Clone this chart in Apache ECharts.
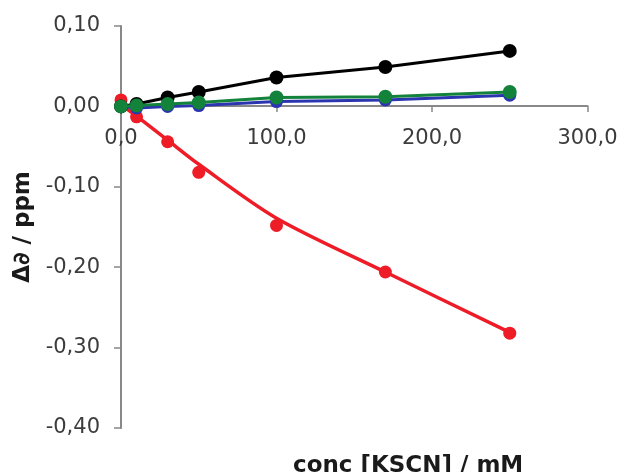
<!DOCTYPE html>
<html>
<head>
<meta charset="utf-8">
<script src="https://cdn.jsdelivr.net/npm/echarts@6/dist/echarts.min.js"></script>
<style>
html,body{margin:0;padding:0;background:#fff;}
#chart{width:621px;height:472px;}
</style>
</head>
<body>
<div id="chart"></div>
<script>
// concentrations (mM)
var conc = [0, 10, 30, 50, 100, 170, 250];
// chemical shift changes (ppm)
var blackVals = [0.000, 0.003, 0.011, 0.018, 0.036, 0.049, 0.069];
var greenVals = [0.000, 0.001, 0.003, 0.005, 0.011, 0.012, 0.018];
var blueVals  = [0.000, -0.002, 0.000, 0.001, 0.006, 0.008, 0.014];
var redVals   = [0.008, -0.013, -0.044, -0.082, -0.148, -0.206, -0.282];
// red trend curve
var redFit    = [0.002, -0.012, -0.042, -0.072, -0.139, -0.206, -0.281];

var xTicks = [0, 100, 200, 300];
var yTicks = [-0.4, -0.3, -0.2, -0.1, 0.0, 0.1];

function pairs(vals){ return conc.map(function(c,i){ return [c, vals[i]]; }); }

var FONT = 'DejaVu Sans';
var chart = echarts.init(document.getElementById('chart'), null, {renderer:'canvas'});
chart.setOption({
  backgroundColor:'#ffffff',
  animation:false,
  title:{
    text:'conc [KSCN] / mM',
    left:288, top:450,
    textStyle:{fontFamily:FONT, fontSize:23, fontWeight:'bold', color:'#1a1a1a'}
  },
  grid:{left:121, right:33.5, top:26, bottom:44},
  xAxis:{
    type:'value', min:xTicks[0], max:xTicks[xTicks.length-1], interval:100,
    position:'bottom', offset:-322,
    axisLine:{onZero:false, lineStyle:{color:'#888888', width:2}},
    axisTick:{show:true, length:6, lineStyle:{color:'#888888', width:1.5}},
    splitLine:{show:false},
    axisLabel:{margin:22, fontFamily:FONT, fontSize:21, color:'#3c3c3c',
      formatter:function(v){ return v.toFixed(1).replace('.', ','); }}
  },
  yAxis:{
    type:'value', min:yTicks[0], max:yTicks[yTicks.length-1], interval:0.1,
    name:'\u0394\u2202 / ppm', nameLocation:'middle', nameRotate:90, nameGap:80,
    nameTextStyle:{fontFamily:FONT, fontSize:23, fontWeight:'bold', color:'#1a1a1a'},
    axisLine:{lineStyle:{color:'#888888', width:2}},
    axisTick:{show:true, length:7, lineStyle:{color:'#888888', width:1.5}},
    splitLine:{show:false},
    axisLabel:{margin:21, fontFamily:FONT, fontSize:21, color:'#3c3c3c',
      formatter:function(v){ return (Math.round(v*100)/100).toFixed(2).replace('.', ','); }}
  },
  series:[
    {type:'line', name:'red fit', data:pairs(redFit), smooth:0.3, showSymbol:false,
     lineStyle:{color:'#ee1c27', width:3.5}, z:1},
    {type:'scatter', name:'red', data:pairs(redVals), symbolSize:13,
     itemStyle:{color:'#ee1c27', opacity:1}, z:2},
    {type:'line', name:'blue', data:pairs(blueVals), symbol:'circle', symbolSize:13,
     lineStyle:{color:'#2b35b0', width:3}, itemStyle:{color:'#2b35b0'}, z:3},
    {type:'line', name:'black', data:pairs(blackVals), symbol:'circle', symbolSize:14,
     lineStyle:{color:'#000000', width:3}, itemStyle:{color:'#000000'}, z:4},
    {type:'line', name:'green', data:pairs(greenVals), symbol:'circle', symbolSize:14,
     lineStyle:{color:'#13823a', width:3}, itemStyle:{color:'#13823a'}, z:5}
  ]
});
</script>
</body>
</html>
